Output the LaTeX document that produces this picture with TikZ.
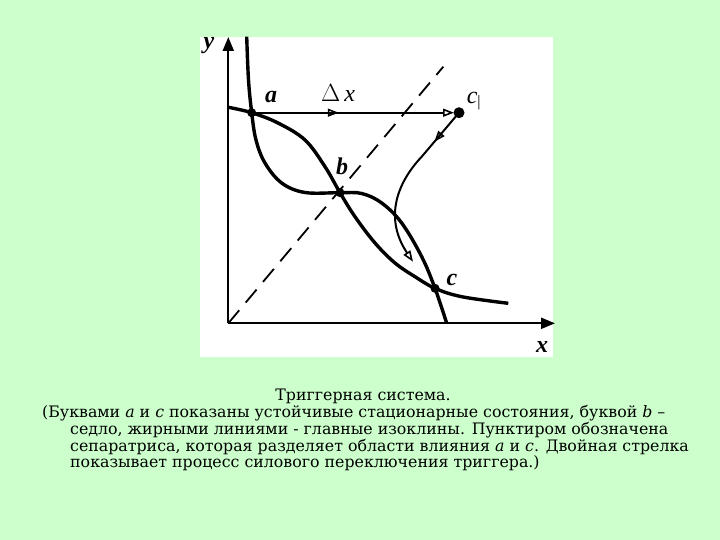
\documentclass[tikz,border=0pt]{standalone}
\usepackage{fontspec}
\setmainfont{Liberation Serif}
\newfontfamily\capfont{DejaVu Serif}
\usetikzlibrary{arrows.meta,decorations.markings}
\definecolor{fond}{RGB}{204,255,204}

\tikzset{
  iso/.style={line width=3.4pt},
  axe/.style={line width=2.2pt,-{Triangle[length=14pt,width=11pt]}},
  traj/.style={line width=2pt},
  midarrow/.style={postaction={decorate},decoration={markings,
      mark=at position #1 with {\arrow{Triangle[open,length=11pt,width=8pt,line width=1.6pt]}}}},
  lbl/.style={font=\bfseries\itshape\fontsize{24}{24}\selectfont},
  lbli/.style={font=\itshape\fontsize{24}{24}\selectfont},
  legende/.style={anchor=west,inner sep=0pt,font=\capfont\fontsize{15.8}{16}\selectfont}
}

\begin{document}
\begin{tikzpicture}[x=1pt,y=-1pt]
\fill [fond] (0,0) rectangle (720,540);
\fill [white] (200,37) rectangle (553,357);

% points
\coordinate (O) at (228.3,323.3);
\coordinate (a) at (251.7,112.7);
\coordinate (b) at (340,192.7);
\coordinate (c) at (435,288.3);
\coordinate (c1) at (459,112.7);

% axes
\draw [axe] (O) -- (228.3,37);
\draw [axe] (O) -- (555,323.3);
\node [lbl] (ly) at (209,46) {y};
\node [lbl] (lx) at (542,347) {x};

% separatrice
\draw [line width=1.8pt,dash pattern=on 17pt off 10pt] (O) -- (443.3,66.7);

% isoclines
\draw [iso] plot [smooth,tension=0.6] coordinates {(246.7,36.7) (248.5,80) (a) (256,140)
  (265,163) (281.7,183) (305,192.5) (b) (361.7,193.5) (381.7,203) (401.7,223)
  (421.7,256.7) (c) (446.7,323.3)};
\draw [iso] plot [smooth,tension=0.6] coordinates {(228.3,107.3) (a) (278,123) (305,140)
  (325,166.7) (b) (355,216.7) (375,243) (395,263) (415,276.7) (c) (461.7,296.7)
  (508.3,303.3)};

% commutation
\draw [traj,midarrow=0.42,-{Triangle[open,length=11pt,width=8pt,line width=1.6pt]},shorten >=5pt] (a) -- (c1);
\draw [traj,midarrow=0.22,-{Triangle[open,length=11pt,width=8pt,line width=1.6pt]},shorten <=4pt]
  (c1) -- (421.7,156.7) .. controls (395,185) and (385,220) .. (413,261.7);

\foreach \p in {a,b,c} \fill (\p) circle [radius=4.5pt];
\fill (c1) circle [radius=5.5pt];

\node [lbl] (la) at (271,97) {a};
\node [lbli] (ldx) at (338,93) {$\Delta$\,x};
\node [lbl] (lb) at (342,166) {b};
\node [lbl] (lc) at (452,280) {c};
\node [lbli] (lc1) at (474,101) {c\textsubscript{\upshape\fontsize{16}{16}\selectfont|}};

% legende
\node [inner sep=0pt,font=\capfont\fontsize{15.8}{16}\selectfont] (titre) at (363,396) {Триггерная система.};
\node [legende] (l1) at (42,413) {(Буквами \textit{a} и \textit{c} показаны устойчивые стационарные состояния, буквой \textit{b} –};
\node [legende] (l2) at (70,430) {седло, жирными линиями - главные изоклины. Пунктиром обозначена};
\node [legende] (l3) at (70,447) {сепаратриса, которая разделяет области влияния \textit{a} и \textit{c}. Двойная стрелка};
\node [legende] (l4) at (70,463) {показывает процесс силового переключения триггера.)};
\end{tikzpicture}
\end{document}
